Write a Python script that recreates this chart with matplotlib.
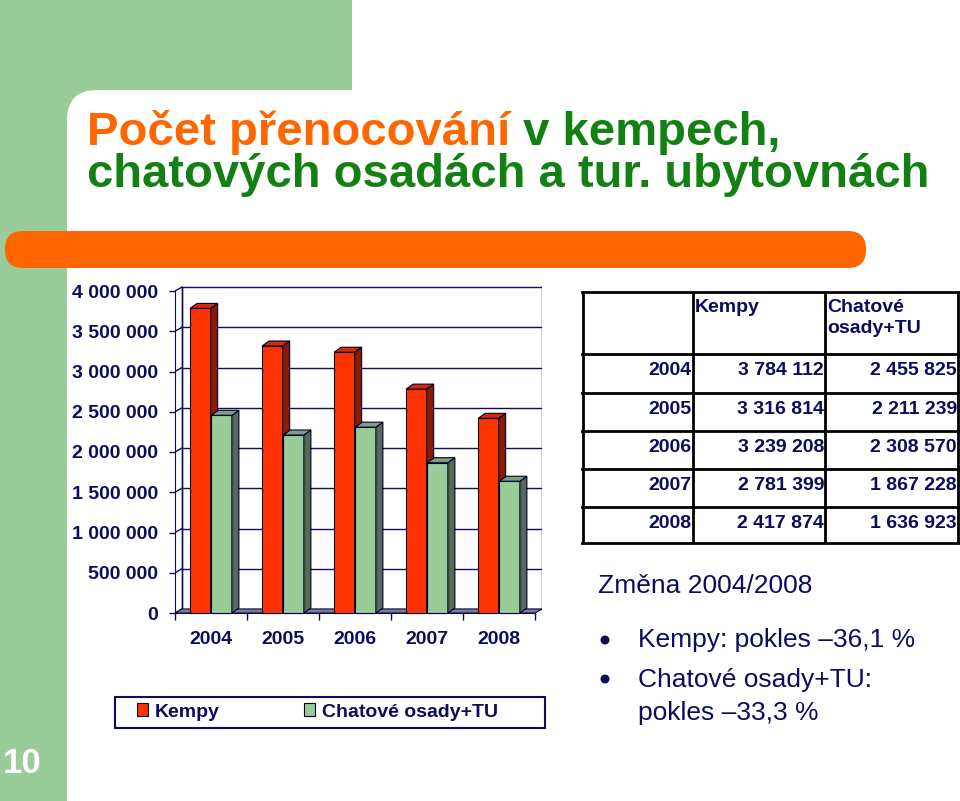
import matplotlib
matplotlib.use("Agg")
import matplotlib.pyplot as plt
import numpy as np
from matplotlib.lines import Line2D
from matplotlib.patches import FancyBboxPatch, Patch, Polygon, Rectangle, Circle
from matplotlib.transforms import IdentityTransform

# data
years = ["2004", "2005", "2006", "2007", "2008"]
kempy = [3784112, 3316814, 3239208, 2781399, 2417874]
chatove = [2455825, 2211239, 2308570, 1867228, 1636923]
series_names = ["Kempy", "Chatové osady+TU"]
y_ticks = [0, 500000, 1000000, 1500000, 2000000, 2500000, 3000000, 3500000, 4000000]

W, H = 960, 801
plt.rcParams["font.family"] = ["Liberation Sans", "DejaVu Sans"]

NAVY = "#0c0c5e"
ORANGE = "#ff6600"
TITLE_GREEN = "#138013"
BG_GREEN = "#99cc99"
RED = ["#ff3300", "#8a1a00", "#d42a00"]       # front, side, top
GREEN = ["#99cc99", "#556b55", "#7f9f7f"]


def space_fmt(v):
    return f"{v:,}".replace(",", " ")


fig = plt.figure(figsize=(W / 100, H / 100), dpi=100)
PIX = IdentityTransform()


def add(artist):
    artist.set_transform(PIX)
    fig.add_artist(artist)
    return artist


def ftext(x, y, s, **kw):
    # x, y in pixels from top-left
    return fig.text(x, H - y, s, transform=PIX, **kw)


# slide background
add(Rectangle((0, 0), 67, H, fc=BG_GREEN, ec="none", zorder=0))
add(Rectangle((0, H - 150), 352, 150, fc=BG_GREEN, ec="none", zorder=0))
add(FancyBboxPatch((67, -60), 1000, H - 90 + 60, boxstyle="round,pad=0,rounding_size=30",
                   fc="white", ec="none", zorder=0.5))
add(FancyBboxPatch((5, H - 268), 861, 37, boxstyle="round,pad=0,rounding_size=18",
                   fc=ORANGE, ec="none", zorder=0.6))
ftext(3, 773, "10", color="white", fontsize=25, fontweight="bold", va="baseline")

# title
t1 = ftext(87, 145, "Počet přenocování", color=ORANGE, fontsize=34, fontweight="bold", va="baseline")
fig.texts.append(plt.Annotation(" v kempech,", xy=(1, 0), xycoords=t1, va="bottom", ha="left",
                                color=TITLE_GREEN, fontsize=34, fontweight="bold"))
fig.texts[-1].set_figure(fig)
ftext(87, 187, "chatových osadách a tur. ubytovnách", color=TITLE_GREEN, fontsize=34,
      fontweight="bold", va="baseline")

# chart (pseudo 3D columns)
px_per_m = 80.5
Y_PER_PX = 1e6 / px_per_m
DX = 7 / 72
DY = 4 * Y_PER_PX
BDX = 7 / 72
BDY = 5 * Y_PER_PX
ylo, yhi = -0.06e6, 4.07e6
bottom_px = 613 + (0 - ylo) / Y_PER_PX
height_px = (yhi - ylo) / Y_PER_PX
ax = fig.add_axes([175 / W, (H - bottom_px) / H, 367 / W, height_px / H])
ax.set_zorder(2)
ax.set_xlim(-0.5, 4.5 + DX)
ax.set_ylim(ylo, yhi)
ax.patch.set_visible(False)

n = len(years)
ax.add_patch(Rectangle((-0.5 + DX, DY), n, y_ticks[-1], fc="white", ec=NAVY, lw=1, zorder=1))
for t in y_ticks[1:-1]:
    ax.plot([-0.5 + DX, n - 0.5 + DX], [t + DY, t + DY], color=NAVY, lw=1, zorder=1.5)
for t in y_ticks:
    ax.plot([-0.5, -0.5 + DX], [t, t + DY], color=NAVY, lw=1, zorder=1.5)
ax.plot([-0.5 + DX, -0.5 + DX], [DY, y_ticks[-1] + DY], color=NAVY, lw=1, zorder=1.5)
ax.add_patch(Polygon([(-0.5, 0), (n - 0.5, 0), (n - 0.5 + DX, DY), (-0.5 + DX, DY)],
                     closed=True, fc="#808080", ec=NAVY, lw=0.8, zorder=2))

x = np.arange(n)
bw = 0.285


def bar3d(lefts, values, cols, z):
    ax.bar(lefts, values, width=bw, align="edge", color=cols[0], edgecolor="#000033",
           lw=0.8, zorder=z)
    for l, v in zip(lefts, values):
        r = l + bw
        ax.add_patch(Polygon([(r, 0), (r + BDX, BDY), (r + BDX, v + BDY), (r, v)], closed=True,
                             fc=cols[1], ec="#000033", lw=0.8, zorder=z))
        ax.add_patch(Polygon([(l, v), (r, v), (r + BDX, v + BDY), (l + BDX, v + BDY)], closed=True,
                             fc=cols[2], ec="#000033", lw=0.8, zorder=z))


bar3d(x - 0.29, kempy, RED, 4)
bar3d(x + 0.005, chatove, GREEN, 5)

for s in ["top", "right"]:
    ax.spines[s].set_visible(False)
ax.spines["left"].set_color(NAVY)
ax.spines["left"].set_bounds(0, y_ticks[-1])
ax.spines["left"].set_zorder(3)
ax.spines["bottom"].set_position(("data", 0))
ax.spines["bottom"].set_bounds(-0.5, n - 0.5)
ax.spines["bottom"].set_color(NAVY)
ax.spines["bottom"].set_zorder(3)

ax.set_yticks(y_ticks, labels=[space_fmt(t) for t in y_ticks])
ax.tick_params(axis="y", length=4, width=1, color=NAVY, pad=8, labelsize=14, labelcolor=NAVY)
ax.set_xticks(x, labels=years)
ax.set_xticks(np.arange(-0.5, n, 1), minor=True)
ax.tick_params(axis="x", which="major", length=0, pad=13, labelsize=14, labelcolor=NAVY)
ax.tick_params(axis="x", which="minor", length=5, width=1, color=NAVY)
for lab in ax.get_yticklabels() + ax.get_xticklabels():
    lab.set_fontweight("bold")

# legend
add(Rectangle((115, H - 728), 430, 31, fill=False, ec=NAVY, lw=1.5, zorder=3))
handles = [Patch(fc=RED[0], ec="#000033", lw=0.8), Patch(fc=GREEN[0], ec="#000033", lw=0.8)]
fig.legend(handles, series_names, loc="center left", bbox_to_anchor=(127 / W, 1 - 712 / H),
           ncol=2, frameon=False, borderpad=0, handlelength=0.6, handleheight=0.6,
           handletextpad=0.35, columnspacing=4.3, labelcolor=NAVY,
           prop={"size": 14, "weight": "bold"})

# table
row_y = [291.7, 354, 392.7, 430.7, 469, 506.7, 543.3]
col_x = [583, 692.7, 825, 958]
for yy in row_y:
    add(Line2D([col_x[0] - 1, col_x[-1] + 1], [H - yy, H - yy], color="black", lw=2, zorder=3))
for xx in col_x:
    add(Line2D([xx, xx], [H - row_y[0] - 1, H - row_y[-1] + 1], color="black", lw=2, zorder=3))
tkw = dict(color=NAVY, fontsize=14, fontweight="bold", va="baseline", zorder=4)
ftext(col_x[1] + 2, row_y[0] + 20, "Kempy", **tkw)
ftext(col_x[2] + 2, row_y[0] + 20, "Chatové", **tkw)
ftext(col_x[2] + 2, row_y[0] + 41.5, "osady+TU", **tkw)
for i in range(n):
    base = row_y[i + 1] + 21
    ftext(col_x[1] - 1, base, years[i], ha="right", **tkw)
    ftext(col_x[2] - 1, base, space_fmt(kempy[i]), ha="right", **tkw)
    ftext(col_x[3] - 1, base, space_fmt(chatove[i]), ha="right", **tkw)

# change summary
pk = (kempy[-1] / kempy[0] - 1) * 100
pc = (chatove[-1] / chatove[0] - 1) * 100


def pct(p):
    return f"–{abs(p):.1f}".replace(".", ",") + " %"


skw = dict(color=NAVY, fontsize=19, va="baseline")
ftext(598, 593, "Změna 2004/2008", **skw)
add(Circle((605, H - 640), 4.5, fc=NAVY, ec="none", zorder=4))
add(Circle((605, H - 679), 4.5, fc=NAVY, ec="none", zorder=4))
ftext(638, 647, "Kempy: pokles " + pct(pk), **skw)
ftext(638, 687, "Chatové osady+TU:", **skw)
ftext(638, 720, "pokles " + pct(pc), **skw)

fig.savefig("out.png", dpi=100)
